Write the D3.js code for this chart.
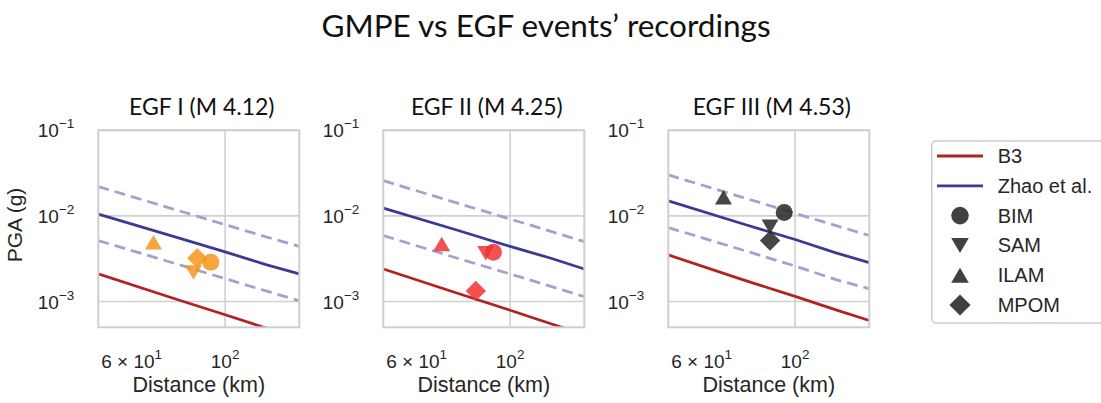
<!DOCTYPE html>
<html><head><meta charset="utf-8">
<script src="https://cdn.jsdelivr.net/npm/d3@7"></script>
<style>
body{margin:0;background:#fff;}
text{fill:#262626;}
</style></head>
<body><svg id="chart" width="1101" height="403"></svg>
<script>
// ---- data ----
const panelTitles = ["EGF I (M 4.12)", "EGF II (M 4.25)", "EGF III (M 4.53)"];
const panelColors = ["#f7941d", "#ee3333", "#262626"];
const gmpeDistances = [50, 75, 100, 125, 150];
const zhaoMedian = [
  [0.0105, 0.0058, 0.0038, 0.0027, 0.0021],
  [0.0123, 0.0068, 0.0044, 0.0032, 0.0024],
  [0.0150, 0.0081, 0.0053, 0.0037, 0.00285]
];
const zhaoUpper = [
  [0.0220, 0.0121, 0.0079, 0.0057, 0.0044],
  [0.0258, 0.0141, 0.0092, 0.0066, 0.0050],
  [0.0301, 0.0165, 0.0107, 0.0077, 0.0059]
];
const zhaoLower = [
  [0.00515, 0.00284, 0.00185, 0.00133, 0.00102],
  [0.0059, 0.0032, 0.0021, 0.0015, 0.00114],
  [0.0073, 0.0040, 0.0026, 0.0018, 0.00141]
];
const b3Median = [
  [0.0021, 0.0011, 0.0007, 0.00049, 0.00037],
  [0.0024, 0.00125, 0.00079, 0.00055, 0.00041],
  [0.0035, 0.0018, 0.00115, 0.0008, 0.0006]
];
const stations = ["BIM", "SAM", "ILAM", "MPOM"];
const stationDist = [
  [92.5, 84.1, 67.6, 85.9],
  [91.3, 87.5, 68.8, 82.9],
  [94.2, 87.2, 67.6, 87.2]
];
const stationPGA = [
  [0.00288, 0.00218, 0.00493, 0.00321],
  [0.00377, 0.00367, 0.00471, 0.00133],
  [0.01094, 0.0075, 0.0165, 0.00515]
];
const xTicks = [60, 100];
const xTickLabels = [["6 × 10", "1"], ["10", "2"]];
const yTicks = [1e-3, 1e-2, 1e-1];
const yTickLabels = [["10", "−3"], ["10", "−2"], ["10", "−1"]];
const legendLabels = ["B3", "Zhao et al.", "BIM", "SAM", "ILAM", "MPOM"];

// ---- layout ----
const svg = d3.select("#chart");
const panelLeft = [98.3, 383.3, 668.3];
const pw = 201, plotTop = 130.3, ph = 197;
const blue = "#3b3b94", red = "#b22222", dashCol = "#a4a2cc";
const sansFont = "'Liberation Sans', Arial, sans-serif";
const titleFont = "Lato, 'Noto Sans', sans-serif";

svg.append("text").attr("x", 546).attr("y", 37).attr("text-anchor", "middle")
  .style("font-family", titleFont).style("font-size", "31.5px").style("fill", "#111")
  .text("GMPE vs EGF events’ recordings");

function markerPath(name, s) {
  if (name === "BIM") return d3.symbol(d3.symbolCircle, Math.PI * s * s)();
  if (name === "SAM") return `M${-s},${-s*0.85}L${s},${-s*0.85}L0,${s*0.85}Z`;
  if (name === "ILAM") return `M${-s},${s*0.85}L${s},${s*0.85}L0,${-s*0.85}Z`;
  const d = s * 1.2;
  return `M0,${-d}L${d},0L0,${d}L${-d},0Z`;
}

panelTitles.forEach((title, i) => {
  const x = d3.scaleLog().domain([50, 150]).range([0, pw]);
  const y = d3.scaleLog().domain([5e-4, 1e-1]).range([ph, 0]);
  const g = svg.append("g").attr("transform", `translate(${panelLeft[i]},${plotTop})`);
  const cid = "clip" + i;
  g.append("clipPath").attr("id", cid).append("rect").attr("width", pw).attr("height", ph);

  g.selectAll(".gx").data([100]).join("line")
    .attr("x1", d => x(d)).attr("x2", d => x(d)).attr("y1", 0).attr("y2", ph)
    .attr("stroke", "#d0d0d0").attr("stroke-width", 1.6);
  g.selectAll(".gy").data(yTicks).join("line")
    .attr("x1", 0).attr("x2", pw).attr("y1", d => y(d)).attr("y2", d => y(d))
    .attr("stroke", "#d0d0d0").attr("stroke-width", 1.6);

  const line = d3.line().x((d, k) => x(gmpeDistances[k])).y(d => y(d));
  const lg = g.append("g").attr("clip-path", `url(#${cid})`);
  lg.append("path").datum(zhaoUpper[i]).attr("d", line).attr("fill", "none")
    .attr("stroke", dashCol).attr("stroke-width", 2.8).attr("stroke-dasharray", "11,6");
  lg.append("path").datum(zhaoLower[i]).attr("d", line).attr("fill", "none")
    .attr("stroke", dashCol).attr("stroke-width", 2.8).attr("stroke-dasharray", "11,6");
  lg.append("path").datum(b3Median[i]).attr("d", line).attr("fill", "none")
    .attr("stroke", red).attr("stroke-width", 2.8);
  lg.append("path").datum(zhaoMedian[i]).attr("d", line).attr("fill", "none")
    .attr("stroke", blue).attr("stroke-width", 2.8);

  stations.forEach((s, k) => {
    g.append("path").attr("d", markerPath(s, 8.5))
      .attr("transform", `translate(${x(stationDist[i][k])},${y(stationPGA[i][k])})`)
      .attr("fill", panelColors[i]).attr("fill-opacity", 0.85);
  });

  g.append("rect").attr("width", pw).attr("height", ph).attr("fill", "none")
    .attr("stroke", "#cfcfcf").attr("stroke-width", 2);

  g.append("text").attr("x", pw / 2 + 3).attr("y", 115 - plotTop).attr("text-anchor", "middle")
    .style("font-family", titleFont).style("font-size", "23px").style("fill", "#111").text(title);

  yTicks.forEach((t, k) => {
    const tx = g.append("text").attr("x", -24).attr("y", y(t) + 7).attr("text-anchor", "end")
      .style("font-family", sansFont).style("font-size", "19px");
    tx.append("tspan").text(yTickLabels[k][0]);
    tx.append("tspan").attr("dy", -9).style("font-size", "13.5px").text(yTickLabels[k][1]);
  });
  xTicks.forEach((t, k) => {
    const tx = g.append("text").attr("x", x(t)).attr("y", 368 - plotTop).attr("text-anchor", "middle")
      .style("font-family", sansFont).style("font-size", "19px");
    tx.append("tspan").text(xTickLabels[k][0]);
    tx.append("tspan").attr("dy", -9).style("font-size", "13.5px").text(xTickLabels[k][1]);
  });
  g.append("text").attr("x", pw / 2).attr("y", 392 - plotTop).attr("text-anchor", "middle")
    .style("font-family", sansFont).style("font-size", "21.5px").text("Distance (km)");
});

svg.append("text").attr("transform", "translate(22,225) rotate(-90)").attr("text-anchor", "middle")
  .style("font-family", sansFont).style("font-size", "21px").text("PGA (g)");

const lgd = svg.append("g");
lgd.append("rect").attr("x", 931.7).attr("y", 141).attr("width", 220).attr("height", 182)
  .attr("rx", 4).attr("fill", "#fff").attr("stroke", "#cccccc").attr("stroke-width", 1.5);
const rowY = d3.scaleLinear().domain([0, 5]).range([156, 305]);
legendLabels.forEach((lab, k) => {
  const yy = rowY(k);
  if (k < 2) {
    lgd.append("line").attr("x1", 937).attr("x2", 983).attr("y1", yy).attr("y2", yy)
      .attr("stroke", k === 0 ? red : blue).attr("stroke-width", 2.8);
  } else {
    lgd.append("path").attr("d", markerPath(stations[k - 2], 8.8))
      .attr("transform", `translate(960,${yy})`).attr("fill", "#262626").attr("fill-opacity", 0.88);
  }
  lgd.append("text").attr("x", 997.7).attr("y", yy + 7).style("font-family", sansFont)
    .style("font-size", "20px").text(lab);
});
</script></body></html>
